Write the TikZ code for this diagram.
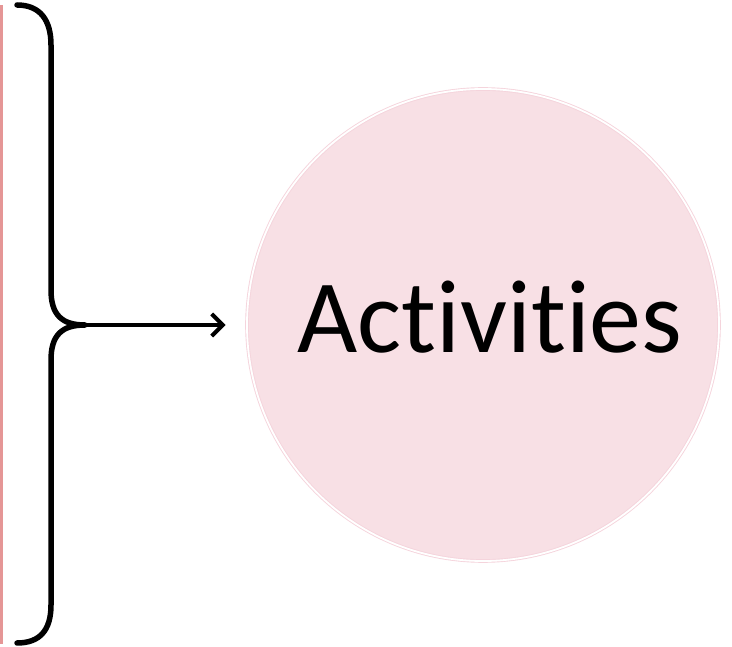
\documentclass[tikz,border=0pt]{standalone}
\usepackage{fontspec}
\setmainfont[Ligatures=NoCommon,RawFeature=-liga]{Carlito}
\usepackage{tikz}
\usetikzlibrary{arrows.meta,positioning}
\definecolor{circfill}{RGB}{248,224,229}
\definecolor{circline}{RGB}{245,212,220}
\definecolor{sidebar}{RGB}{229,150,150}

\begin{document}
\begin{tikzpicture}[x=1pt,y=-1pt,
      brace/.style={line width=5.5pt, line cap=round, line join=round},
      actcirc/.style={circle, fill=circfill, draw=circline, line width=0.9pt, double=white, double distance=1.8pt,
                      minimum size=472pt, inner sep=0pt}]
    \useasboundingbox (0,0) rectangle (732,647);
    \fill[sidebar] (0,5) rectangle (3,644);
    \node[actcirc] (act) at (483,325) {};
    \node[anchor=base, font=\fontsize{104}{110}\selectfont, inner sep=0pt] (lbl) at (490,353) {Activities};
    \coordinate (tip) at (85,325);
    \draw[brace] (17,5) .. controls (40,5) and (51,20) .. (51,45) -- (51,290)
      .. controls (51,315) and (62,325) .. (tip)
      .. controls (62,325) and (51,335) .. (51,360) -- (51,605)
      .. controls (51,630) and (40,643) .. (17,643);
    \draw[-{Straight Barb[length=11pt,width=22pt]}, line width=4pt, line cap=round, shorten >=21pt] (tip)--(act.west);
  \end{tikzpicture}
\end{document}
